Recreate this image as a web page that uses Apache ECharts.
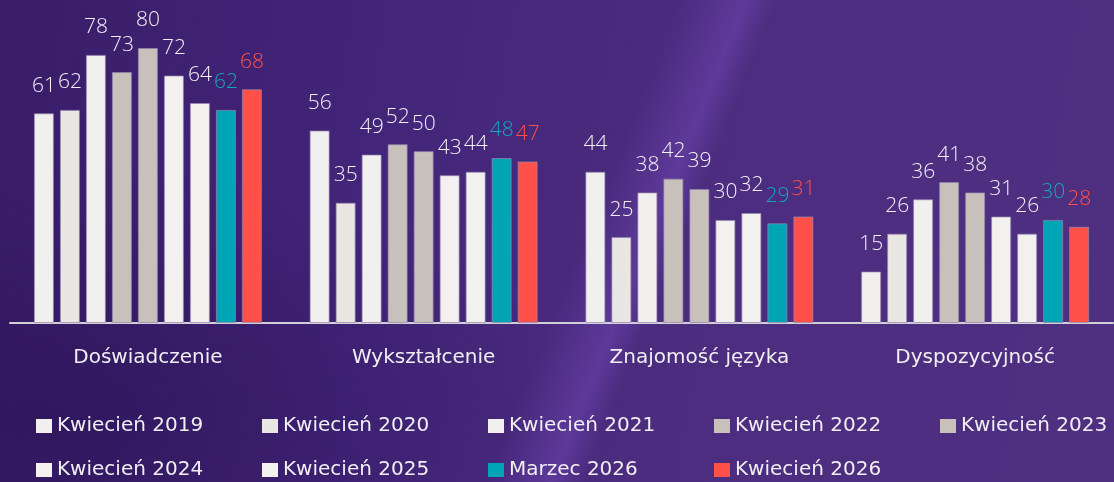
<!DOCTYPE html>
<html>
<head>
<meta charset="utf-8">
<script src="https://cdn.jsdelivr.net/npm/echarts@6/dist/echarts.min.js"></script>
<style>
  html, body { margin: 0; padding: 0; }
  #wykres {
    width: 1114px;
    height: 482px;
    background:
      linear-gradient(112deg, rgba(110,70,180,0) 52%, rgba(112,72,182,0.5) 57%, rgba(110,70,180,0) 59.5%),
      radial-gradient(ellipse 520px 260px at 60px 420px, rgba(30,10,70,0.4), rgba(30,10,70,0)),
      linear-gradient(100deg, #391d68 0%, #43257a 35%, #4b2c7e 60%, #4e2f80 100%);
  }
</style>
</head>
<body>
<div id="wykres"></div>
<script>
  // kategorie i serie
  var kategorie = ['Doświadczenie', 'Wykształcenie', 'Znajomość języka', 'Dyspozycyjność'];
  var serie = ['Kwiecień 2019', 'Kwiecień 2020', 'Kwiecień 2021', 'Kwiecień 2022', 'Kwiecień 2023',
               'Kwiecień 2024', 'Kwiecień 2025', 'Marzec 2026', 'Kwiecień 2026'];
  var kwiecien2019 = [61, 56, 44, 15];
  var kwiecien2020 = [62, 35, 25, 26];
  var kwiecien2021 = [78, 49, 38, 36];
  var kwiecien2022 = [73, 52, 42, 41];
  var kwiecien2023 = [80, 50, 39, 38];
  var kwiecien2024 = [72, 43, 30, 31];
  var kwiecien2025 = [64, 44, 32, 26];
  var marzec2026 = [62, 48, 29, 30];
  var kwiecien2026 = [68, 47, 31, 28];

  var dane = [kwiecien2019, kwiecien2020, kwiecien2021, kwiecien2022, kwiecien2023,
              kwiecien2024, kwiecien2025, marzec2026, kwiecien2026];
  var kolory = ['#f2f0ee', '#eae6e3', '#f2f0ee', '#c8c1bb', '#c8c1bb', '#f3f1f0', '#f3f1f0', '#00a5b5', '#ff504a'];
  var koloryEtykiet = ['#f2f0f4', '#f2f0f4', '#f2f0f4', '#f2f0f4', '#f2f0f4', '#f2f0f4', '#f2f0f4', '#12a8b8', '#ff5048'];

  var czcionkaLiczb = '"Open Sans", "Noto Sans", sans-serif';
  var czcionka = '"DejaVu Sans", sans-serif';

  var series = serie.map(function (nazwa, i) {
    return {
      name: nazwa,
      type: 'bar',
      data: dane[i],
      barWidth: 20,
      barGap: '30%',
      itemStyle: {
        color: kolory[i],
        borderColor: 'rgba(150,135,175,0.7)',
        borderWidth: 1
      },
      label: {
        show: true,
        position: 'top',
        distance: 17,
        color: koloryEtykiet[i],
        fontSize: 21,
        fontWeight: 300,
        fontFamily: czcionkaLiczb
      }
    };
  });

  // jedna legenda na serię: 5 w pierwszym wierszu, 4 w drugim
  var legendy = serie.map(function (nazwa, i) {
    return {
      data: [nazwa],
      left: 31 + (i % 5) * 226,
      top: i < 5 ? 411 : 455,
      icon: 'rect',
      itemWidth: 16,
      itemHeight: 14,
      selectedMode: false,
      itemStyle: { borderWidth: 0 },
      textStyle: {
        color: '#f0eef2',
        fontSize: 20,
        fontWeight: 'normal',
        fontFamily: czcionka
      }
    };
  });

  var myChart = echarts.init(document.getElementById('wykres'));
  var option = {
    backgroundColor: 'transparent',
    animation: false,
    legend: legendy,
    grid: {
      left: 10,
      right: 1,
      top: 48,
      bottom: 159,
      containLabel: false,
      outerBoundsMode: 'none'
    },
    xAxis: {
      type: 'category',
      data: kategorie,
      axisLine: {
        lineStyle: { color: '#d3cfd8', width: 2 }
      },
      axisTick: { show: false },
      axisLabel: {
        color: '#f0eef2',
        fontSize: 20,
        fontWeight: 'normal',
        fontFamily: czcionka,
        margin: 25
      }
    },
    yAxis: {
      type: 'value',
      min: 0,
      max: 80,
      show: false,
      splitLine: { show: false }
    },
    series: series
  };
  myChart.setOption(option);
</script>
</body>
</html>
